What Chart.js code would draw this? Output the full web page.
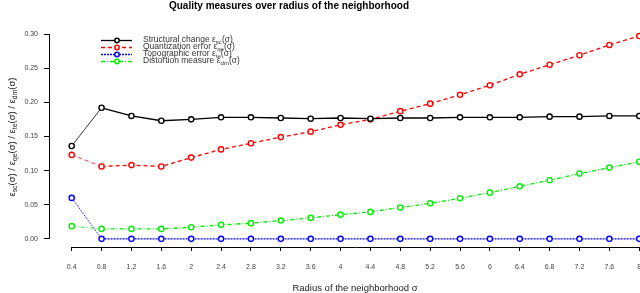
<!DOCTYPE html>
<html>
<head>
<meta charset="utf-8">
<script src="https://cdn.jsdelivr.net/npm/chart.js@4"></script>
<style>
  html,body{margin:0;padding:0;background:#fff;}
  #wrap{position:relative;width:640px;height:293px;}
</style>
</head>
<body>
<div id="wrap"><canvas id="chart" width="640" height="293"></canvas></div>
<script>
// data
const radius = [0.4, 0.8, 1.2, 1.6, 2, 2.4, 2.8, 3.2, 3.6, 4, 4.4, 4.8, 5.2, 5.6, 6, 6.4, 6.8, 7.2, 7.6, 8];
const structural = [0.136, 0.192, 0.180, 0.173, 0.175, 0.178, 0.178, 0.177, 0.176, 0.177, 0.176, 0.177, 0.177, 0.178, 0.178, 0.178, 0.179, 0.179, 0.180, 0.180];
const quantization = [0.123, 0.106, 0.108, 0.106, 0.119, 0.131, 0.140, 0.149, 0.157, 0.167, 0.175, 0.187, 0.198, 0.211, 0.225, 0.241, 0.255, 0.269, 0.284, 0.297];
const topographic = [0.060, 0, 0, 0, 0, 0, 0, 0, 0, 0, 0, 0, 0, 0, 0, 0, 0, 0, 0, 0];
const distortion = [0.0186, 0.0146, 0.0146, 0.0146, 0.017, 0.0205, 0.023, 0.0268, 0.0307, 0.0355, 0.0395, 0.046, 0.052, 0.0595, 0.0677, 0.077, 0.0859, 0.0956, 0.1044, 0.113];
const yTicks = [0, 0.05, 0.10, 0.15, 0.20, 0.25, 0.30];

const chartTitle = 'Quality measures over radius of the neighborhood';
const xTitle = 'Radius of the neighborhood σ';
// legend / y title pieces: [text, isSubscript]
const legendItems = [
  {color:'#000000', dash:[], parts:[['Structural change ε',0],['sc',1],['(σ)',0]]},
  {color:'#ff0000', dash:[4,3], parts:[['Quantization error ε',0],['qe',1],['(σ)',0]]},
  {color:'#0000ff', dash:[2,1], parts:[['Topographic error ε',0],['te',1],['(σ)',0]]},
  {color:'#00ee00', dash:[4,2,1,2], parts:[['Distortion measure ε',0],['dm',1],['(σ)',0]]}
];
const yTitleParts = [['ε',0],['sc',1],['(σ) / ε',0],['qe',1],['(σ) / ε',0],['te',1],['(σ) / ε',0],['dm',1],['(σ)',0]];

const FONT = '"Liberation Sans", Arial, sans-serif';

function toPts(ys){ return radius.map((x,i)=>({x:x, y:ys[i]})); }

function drawParts(ctx, parts, x, y, size){
  let cx = x;
  parts.forEach(p=>{
    const s = p[1] ? size*0.72 : size;
    ctx.font = s + 'px ' + FONT;
    ctx.fillText(p[0], cx, p[1] ? y + size*0.3 : y);
    cx += ctx.measureText(p[0]).width;
  });
  return cx - x;
}
function partsWidth(ctx, parts, size){
  let w = 0;
  parts.forEach(p=>{ ctx.font = (p[1] ? size*0.72 : size) + 'px ' + FONT; w += ctx.measureText(p[0]).width; });
  return w;
}

const rDecor = {
  id:'rDecor',
  afterDraw(chart){
    const ctx = chart.ctx, xs = chart.scales.x, ys = chart.scales.y;
    ctx.save();
    // axis lines like R, only over the tick range
    ctx.strokeStyle = '#000'; ctx.lineWidth = 1; ctx.setLineDash([]);
    ctx.beginPath();
    ctx.moveTo(Math.round(xs.left)+0.5, ys.getPixelForValue(0));
    ctx.lineTo(Math.round(xs.left)+0.5, ys.getPixelForValue(0.30));
    const yb = Math.round(ys.bottom)+0.5;
    ctx.moveTo(xs.getPixelForValue(radius[0]), yb);
    ctx.lineTo(xs.getPixelForValue(radius[radius.length-1]), yb);
    ctx.stroke();

    // title
    ctx.fillStyle = '#000';
    ctx.font = 'bold 10px ' + FONT;
    ctx.textAlign = 'center'; ctx.textBaseline = 'middle';
    ctx.fillText(chartTitle, 289, 6);

    // x title
    ctx.font = '9.5px ' + FONT;
    ctx.fillStyle = '#222';
    ctx.fillText(xTitle, 355, 288);

    // y title, rotated
    ctx.save();
    ctx.translate(12, 137);
    ctx.rotate(-Math.PI/2);
    ctx.textAlign = 'left'; ctx.textBaseline = 'middle';
    const w = partsWidth(ctx, yTitleParts, 9.5);
    drawParts(ctx, yTitleParts, -w/2, 0, 9.5);
    ctx.restore();

    // legend
    const rows = [40.5, 47.5, 54.5, 61.5];
    ctx.textAlign = 'left'; ctx.textBaseline = 'middle';
    legendItems.forEach((it,i)=>{
      const y = rows[i];
      ctx.strokeStyle = it.color; ctx.lineWidth = 1.3; ctx.setLineDash(it.dash);
      ctx.beginPath(); ctx.moveTo(101, y); ctx.lineTo(132, y); ctx.stroke();
      ctx.setLineDash([]);
      ctx.fillStyle = '#fff'; ctx.lineWidth = 1.5;
      ctx.beginPath(); ctx.arc(117, y, 2.2, 0, Math.PI*2); ctx.fill(); ctx.stroke();
      ctx.fillStyle = '#333';
      drawParts(ctx, it.parts, 143, y - 0.5, 8.5);
    });
    ctx.restore();
  }
};

function ds(label, ys, color, dash){
  return {
    label: label, data: toPts(ys),
    borderColor: color, borderWidth: 1.3, borderDash: dash,
    pointRadius: 2.6, pointBorderWidth: 1.4,
    pointBackgroundColor: '#fff', pointBorderColor: color,
    tension: 0, clip: false,
    segment: { borderWidth: c => c.p0DataIndex === 0 ? 0.8 : 1.3 }
  };
}

new Chart(document.getElementById('chart'), {
  type: 'line',
  data: {
    datasets: [
      ds('Structural change', structural, '#000000', []),
      ds('Quantization error', quantization, '#ff0000', [4,3]),
      ds('Topographic error', topographic, '#0000ff', [2,1]),
      ds('Distortion measure', distortion, '#00ee00', [4,2,1,2])
    ]
  },
  options: {
    responsive: false, animation: false,
    layout: { padding: { top: 28, left: 0, right: 0, bottom: 0 } },
    plugins: { legend: { display:false }, tooltip: { enabled:false }, title: { display:false } },
    scales: {
      x: {
        // upper bound chosen so the R-style plot box runs off the right edge, as in the source
        type: 'linear', min: 0.096, max: 7.938,
        border: { display:false },
        grid: { drawOnChartArea:false, drawTicks:true, tickLength:4, color:'#000' },
        afterBuildTicks: s => { s.ticks = radius.map(v=>({value:v})); },
        afterFit: s => { s.height = 46; s.paddingRight = 0; s.paddingLeft = 0; },
        ticks: {
          autoSkip:false, maxRotation:0, padding:12, color:'#444',
          font: { size:7, family: FONT },
          callback: v => String(Number(v.toFixed(1)))
        }
      },
      y: {
        min: -0.0119, max: 0.3088,
        border: { display:false },
        grid: { drawOnChartArea:false, drawTicks:true, tickLength:5, color:'#000' },
        afterBuildTicks: s => { s.ticks = yTicks.map(v=>({value:v})); },
        afterFit: s => { s.width = 49; s.paddingTop = 0; s.paddingBottom = 0; },
        ticks: {
          padding:6, color:'#444',
          font: { size:7, family: FONT },
          callback: v => v.toFixed(2)
        }
      }
    }
  },
  plugins: [rDecor]
});
</script>
</body>
</html>
